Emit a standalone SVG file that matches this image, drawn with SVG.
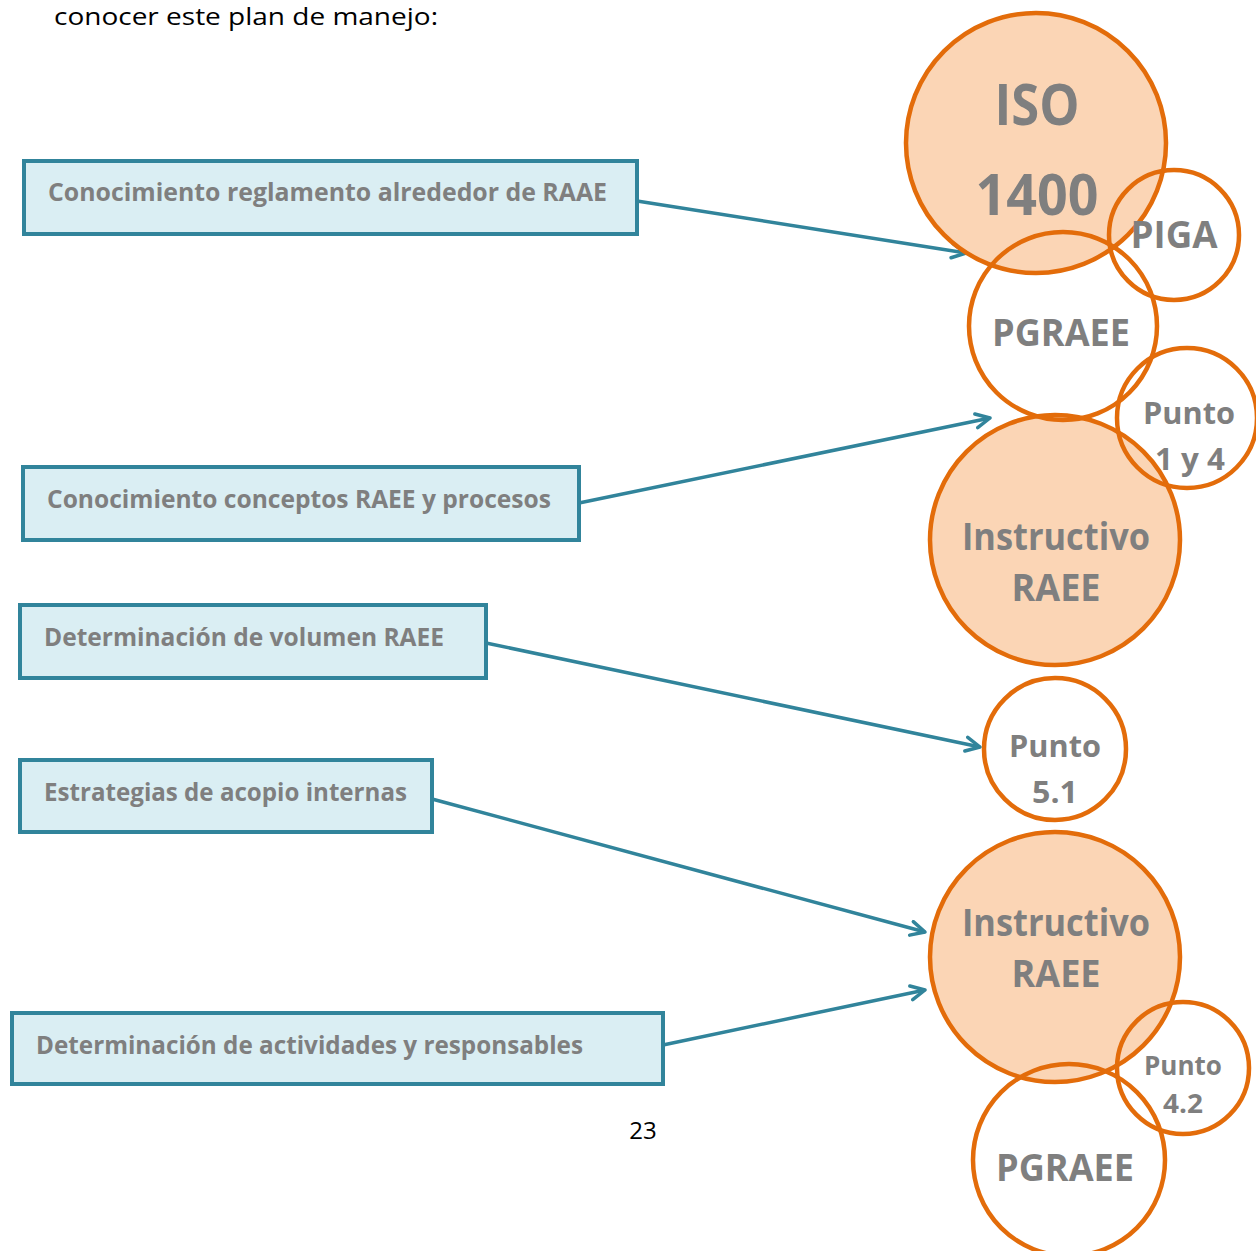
<svg xmlns="http://www.w3.org/2000/svg" width="1256" height="1251" viewBox="0 0 1256 1251">
<defs>
<style>
.box{fill:#DAEEF3;stroke:#31849B;stroke-width:4}
.bt{font-family:"Open Sans","Liberation Sans",sans-serif;font-weight:700;font-size:25px;fill:#7F7F7F}
.ct{font-family:"Open Sans","Liberation Sans",sans-serif;font-weight:700;fill:#7F7F7F;text-anchor:middle}
.cf{fill:#FBD5B5;stroke:#E36C0A;stroke-width:4.5}
.cn{fill:none;stroke:#E36C0A;stroke-width:4.5}
.con{fill:none;stroke:#31849B;stroke-width:3.5;marker-end:url(#ah)}
.pt{font-family:"Open Sans","Liberation Sans",sans-serif;fill:#000}
</style>
<marker id="ah" viewBox="0 0 18 18" refX="16" refY="9" markerWidth="18" markerHeight="18" orient="auto" markerUnits="userSpaceOnUse">
<path d="M2,2 L16,9 L2,16" fill="none" stroke="#31849B" stroke-width="3.5" stroke-linecap="round" stroke-linejoin="round"/>
</marker>
</defs>
<rect width="1256" height="1251" fill="#fff"/>
<text class="pt" x="54" y="25" font-size="23" textLength="384" lengthAdjust="spacingAndGlyphs">conocer este plan de manejo:</text>
<text class="pt" x="643" y="1139" font-size="24" text-anchor="middle">23</text>

<g id="connectors">
<line class="con" x1="637" y1="201" x2="966" y2="253"/>
<line class="con" x1="579" y1="503" x2="990" y2="418"/>
<line class="con" x1="486" y1="643" x2="980" y2="747"/>
<line class="con" x1="432" y1="799" x2="925" y2="932"/>
<line class="con" x1="663" y1="1045" x2="925" y2="990"/>
</g>

<g id="box1"><rect class="box" x="24" y="161" width="613" height="73"/>
<text class="bt" x="48" y="201" textLength="559" lengthAdjust="spacingAndGlyphs">Conocimiento reglamento  alrededor de RAAE</text></g>
<g id="box2"><rect class="box" x="23" y="467" width="556" height="73"/>
<text class="bt" x="47" y="508" textLength="504" lengthAdjust="spacingAndGlyphs">Conocimiento conceptos RAEE y procesos</text></g>
<g id="box3"><rect class="box" x="20" y="605" width="466" height="73"/>
<text class="bt" x="44" y="646" textLength="400" lengthAdjust="spacingAndGlyphs">Determinación de volumen RAEE</text></g>
<g id="box4"><rect class="box" x="20" y="760" width="412" height="72"/>
<text class="bt" x="44" y="801" textLength="363" lengthAdjust="spacingAndGlyphs">Estrategias de acopio internas</text></g>
<g id="box5"><rect class="box" x="12" y="1013" width="651" height="71"/>
<text class="bt" x="36" y="1054" textLength="547" lengthAdjust="spacingAndGlyphs">Determinación de actividades y responsables</text></g>

<g id="circles-fill">
<circle id="iso" class="cf" cx="1036" cy="143" r="130"/>
<circle id="instr1" class="cf" cx="1055" cy="540" r="125"/>
<circle id="instr2" class="cf" cx="1055" cy="957" r="125"/>
</g>
<g id="circles-outline">
<circle id="piga" class="cn" cx="1174" cy="235" r="65"/>
<circle id="pgraee1" class="cn" cx="1063" cy="326" r="94"/>
<circle id="punto14" class="cn" cx="1187" cy="418" r="70"/>
<circle id="punto51" class="cn" cx="1055" cy="749" r="71"/>
<circle id="punto42" class="cn" cx="1183" cy="1068" r="66"/>
<circle id="pgraee2" class="cn" cx="1069" cy="1160" r="96"/>
</g>
<g id="circle-labels">
<text class="ct" x="1037" y="125" font-size="58" textLength="85" lengthAdjust="spacingAndGlyphs">ISO</text>
<text class="ct" x="1037" y="215" font-size="57" textLength="123" lengthAdjust="spacingAndGlyphs">1400</text>
<text class="ct" x="1174" y="248" font-size="37" textLength="87" lengthAdjust="spacingAndGlyphs">PIGA</text>
<text class="ct" x="1061" y="346" font-size="37" textLength="138" lengthAdjust="spacingAndGlyphs">PGRAEE</text>
<text class="ct" x="1189" y="424" font-size="31" textLength="92" lengthAdjust="spacingAndGlyphs">Punto</text>
<text class="ct" x="1190" y="470" font-size="31" textLength="70" lengthAdjust="spacingAndGlyphs">1 y 4</text>
<text class="ct" x="1056" y="550" font-size="37" textLength="188" lengthAdjust="spacingAndGlyphs">Instructivo</text>
<text class="ct" x="1056" y="601" font-size="37" textLength="89" lengthAdjust="spacingAndGlyphs">RAEE</text>
<text class="ct" x="1055" y="757" font-size="31" textLength="92" lengthAdjust="spacingAndGlyphs">Punto</text>
<text class="ct" x="1055" y="803" font-size="31" textLength="46" lengthAdjust="spacingAndGlyphs">5.1</text>
<text class="ct" x="1056" y="936" font-size="37" textLength="188" lengthAdjust="spacingAndGlyphs">Instructivo</text>
<text class="ct" x="1056" y="987" font-size="37" textLength="89" lengthAdjust="spacingAndGlyphs">RAEE</text>
<text class="ct" x="1183" y="1075" font-size="26" textLength="78" lengthAdjust="spacingAndGlyphs">Punto</text>
<text class="ct" x="1183" y="1113" font-size="26" textLength="40" lengthAdjust="spacingAndGlyphs">4.2</text>
<text class="ct" x="1065" y="1181" font-size="37" textLength="138" lengthAdjust="spacingAndGlyphs">PGRAEE</text>
</g>
</svg>
